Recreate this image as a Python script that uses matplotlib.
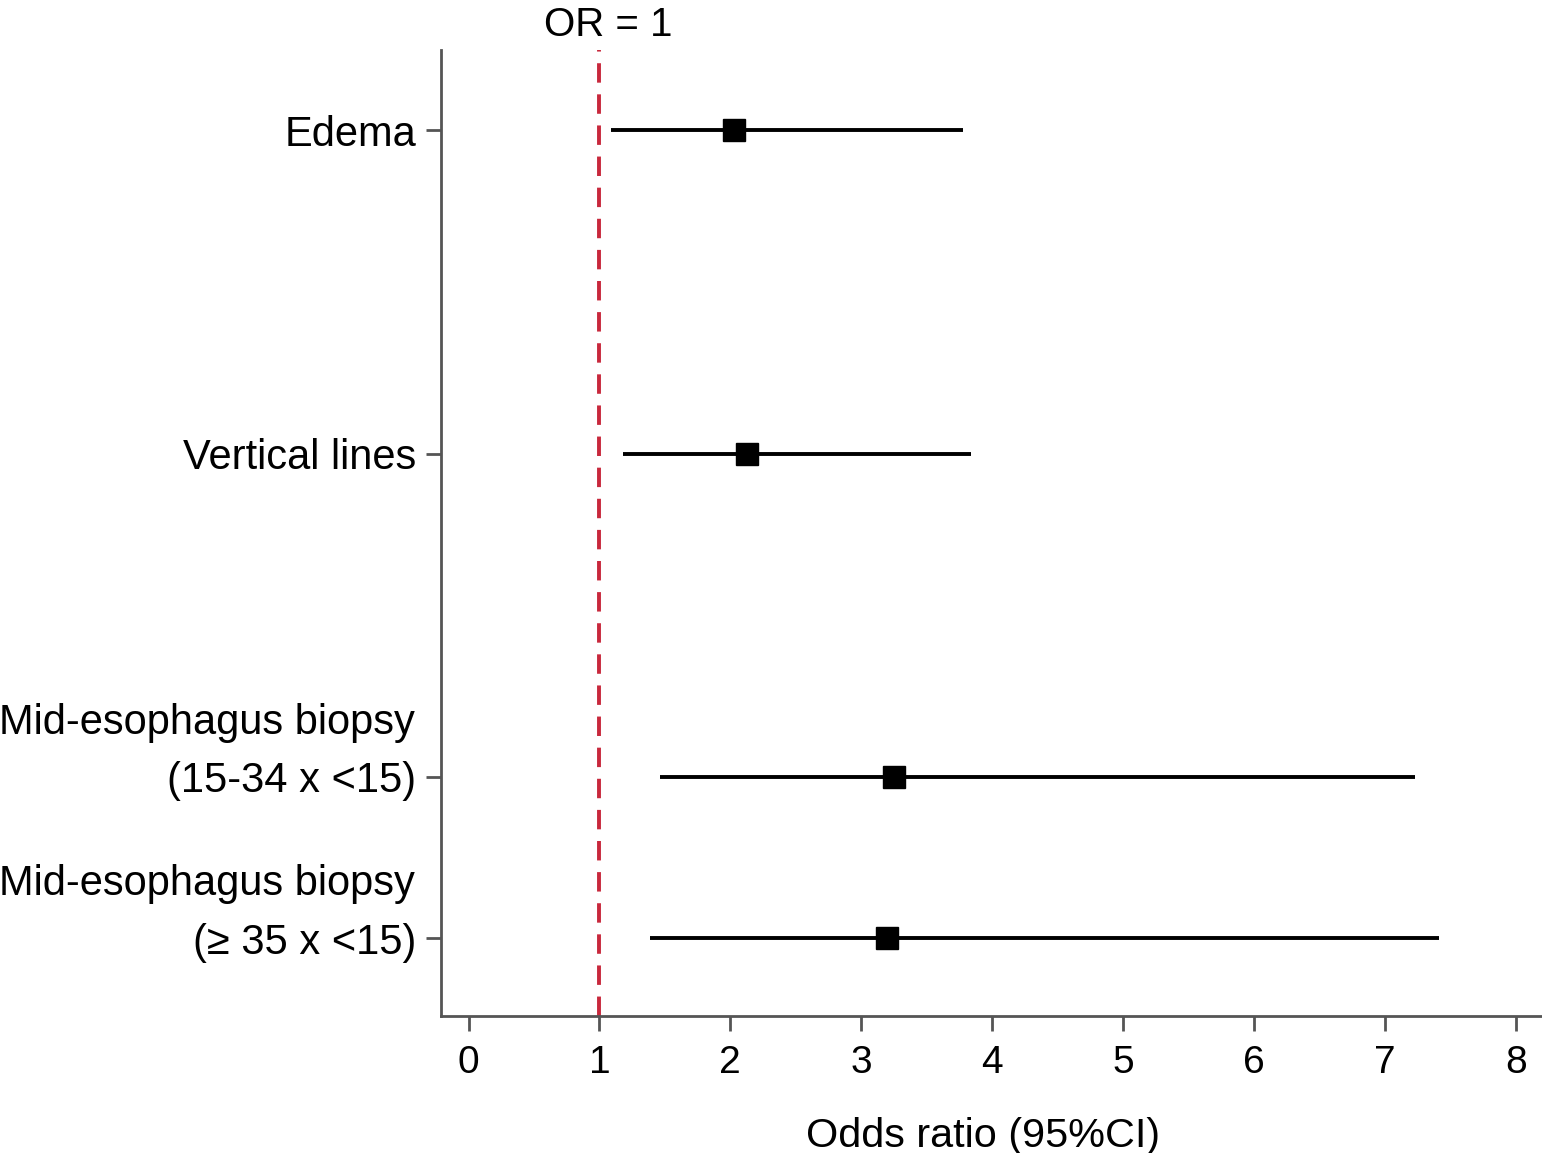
import matplotlib.pyplot as plt
import matplotlib.transforms as mtransforms

plt.rcParams['font.family'] = ['Liberation Sans', 'DejaVu Sans']

# Forest plot data
labels = ["Edema", "Vertical lines", "(15-34 x <15)", "(\u2265 35 x <15)"]
upper_labels = ["", "", "Mid-esophagus biopsy", "Mid-esophagus biopsy"]
ypos = [0, 2, 4, 5]
odds = [2.03, 2.13, 3.25, 3.20]
ci_low = [1.09, 1.18, 1.46, 1.39]
ci_high = [3.78, 3.84, 7.23, 7.41]
xticks = [0, 1, 2, 3, 4, 5, 6, 7, 8]

fig = plt.figure(figsize=(15.42, 11.53), dpi=100)
ax = fig.add_axes([0.286, 0.119, 0.714, 0.838])

# CI lines and point estimates
ax.hlines(ypos, ci_low, ci_high, color="black", lw=2.8, zorder=2)
ax.plot(odds, ypos, "s", color="black", ms=15.5, zorder=3)

# reference line at OR = 1
ax.axvline(1, color="#c8283c", lw=2.8, ls=(0, (5, 3)), zorder=1)
trans = mtransforms.blended_transform_factory(ax.transData, ax.transAxes)
ax.annotate("OR = 1", xy=(1.07, 1.0), xycoords=trans, xytext=(0, 10),
            textcoords="offset points", ha="center", va="baseline",
            fontsize=29, annotation_clip=False)

ax.set_xlim(-0.21, 8.2)
ax.set_ylim(5.48, -0.5)
ax.set_xticks(xticks)
ax.set_yticks(ypos)
ax.set_yticklabels(labels)

# first line of two-line labels
ytrans = mtransforms.blended_transform_factory(ax.transAxes, ax.transData)
for y, t in zip(ypos, upper_labels):
    if t:
        ax.annotate(t, xy=(0, y), xycoords=ytrans, xytext=(-18.5, 42),
                    textcoords="offset points", ha="right", va="center_baseline",
                    fontsize=30)

ax.tick_params(axis="x", labelsize=28, length=11, width=2, color="#555555", pad=10)
ax.tick_params(axis="y", labelsize=30, length=11, width=2, color="#555555", pad=7)
for s in ["top", "right"]:
    ax.spines[s].set_visible(False)
for s in ["left", "bottom"]:
    ax.spines[s].set_color("#555555")
    ax.spines[s].set_linewidth(2)

ax.set_xlabel("Odds ratio (95%CI)", fontsize=29.8, labelpad=26)
ax.xaxis.label.set_x(0.492)

fig.savefig("out.png", dpi=100)
